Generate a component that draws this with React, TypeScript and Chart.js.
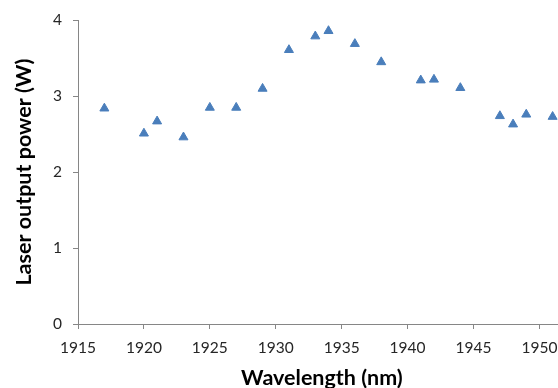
import React, { useEffect, useRef } from 'react';
import { Chart, registerables } from 'chart.js';

Chart.register(...registerables);

const wavelengths = [1917, 1920, 1921, 1923, 1925, 1927, 1929, 1931, 1933, 1934, 1936, 1938, 1941, 1942, 1944, 1947, 1948, 1949, 1951];
const powers = [2.84, 2.51, 2.67, 2.46, 2.85, 2.85, 3.10, 3.61, 3.79, 3.86, 3.69, 3.45, 3.21, 3.22, 3.11, 2.74, 2.63, 2.76, 2.73];
const xTickValues = [1915, 1920, 1925, 1930, 1935, 1940, 1945, 1950];
const yTickValues = [0, 1, 2, 3, 4];
const xTitle = 'Wavelength (nm)';
const yTitle = 'Laser output power (W)';
const xMin = 1915;
const xMax = 1952;
const yMin = 0;
const yMax = 4;

const CANVAS_W = 572;
const CANVAS_H = 400;

export default function App() {
  const ref = useRef<HTMLCanvasElement | null>(null);

  useEffect(() => {
    if (!ref.current) return;
    const axisColor = '#868686';
    const chart = new Chart(ref.current, {
      type: 'scatter',
      data: {
        datasets: [
          {
            data: wavelengths.map((w, i) => ({ x: w, y: powers[i] })),
            pointStyle: 'triangle',
            pointRadius: 5.2,
            pointHoverRadius: 5.2,
            backgroundColor: '#4A7EBB',
            borderColor: '#4A7EBB',
            borderWidth: 1,
          },
        ],
      },
      options: {
        responsive: false,
        animation: false,
        layout: { padding: { top: 20, left: 0, right: 2, bottom: 0 } },
        plugins: { legend: { display: false }, tooltip: { enabled: false } },
        scales: {
          x: {
            type: 'linear',
            min: xMin,
            max: xMax,
            afterBuildTicks: (s: any) => {
              s.ticks = xTickValues.map((v) => ({ value: v }));
            },
            afterFit: (s: any) => {
              s.height = CANVAS_H - 324;
            },
            ticks: {
              padding: 10,
              color: '#262626',
              font: { family: 'Lato', size: 15.5 },
              maxRotation: 0,
              autoSkip: false,
              callback: (v: any) => String(v),
            },
            grid: {
              display: true,
              drawOnChartArea: false,
              drawTicks: true,
              tickLength: 5,
              color: axisColor,
            },
            border: { color: axisColor, width: 1 },
            title: {
              display: true,
              text: xTitle,
              color: '#000',
              font: { family: 'Lato', size: 21.5, weight: 'bold' },
              padding: { top: 0, bottom: 9 },
            },
          },
          y: {
            type: 'linear',
            min: yMin,
            max: yMax,
            afterBuildTicks: (s: any) => {
              s.ticks = yTickValues.map((v) => ({ value: v }));
            },
            afterFit: (s: any) => {
              s.width = 78;
            },
            ticks: {
              padding: 11,
              color: '#262626',
              font: { family: 'Lato', size: 15.5 },
              callback: (v: any) => String(v),
            },
            grid: {
              display: true,
              drawOnChartArea: false,
              drawTicks: true,
              tickLength: 5,
              color: axisColor,
            },
            border: { color: axisColor, width: 1 },
            title: {
              display: true,
              text: yTitle,
              color: '#000',
              font: { family: 'Lato', size: 21.5, weight: 'bold' },
              padding: { top: 11.5, bottom: 0 },
            },
          },
        },
      },
    });
    return () => chart.destroy();
  }, []);

  return (
    <div
      style={{
        position: 'fixed',
        left: 0,
        top: 0,
        width: 558,
        height: 388,
        overflow: 'hidden',
        background: '#fff',
      }}
    >
      <canvas ref={ref} width={CANVAS_W} height={CANVAS_H} style={{ display: 'block' }} />
    </div>
  );
}
